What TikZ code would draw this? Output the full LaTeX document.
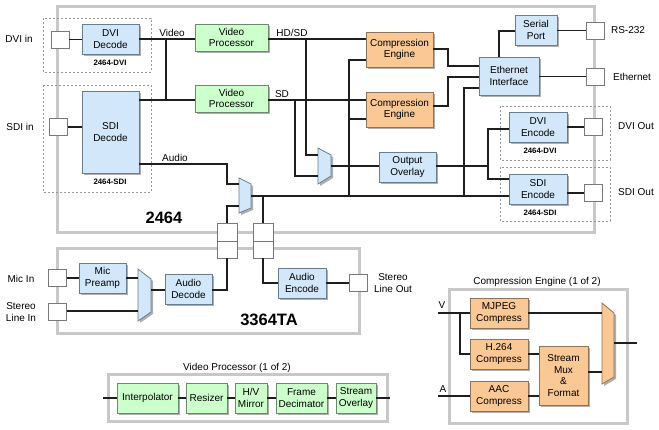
\documentclass[tikz,border=0pt]{standalone}
\usepackage{fontspec}
\setmainfont{Liberation Sans}
\usetikzlibrary{shadows}
\definecolor{bfill}{RGB}{210,232,250}
\definecolor{bborder}{RGB}{105,125,145}
\definecolor{gfill}{RGB}{204,255,204}
\definecolor{gborder}{RGB}{110,135,110}
\definecolor{ofill}{RGB}{250,200,148}
\definecolor{oborder}{RGB}{140,115,90}
\definecolor{shadowc}{RGB}{175,175,175}
\definecolor{framec}{RGB}{200,200,200}
\definecolor{dashc}{RGB}{150,150,150}
\definecolor{portc}{RGB}{120,120,120}
\definecolor{linec}{RGB}{30,30,30}
\tikzset{
  conn/.style={draw=linec, line width=1.1pt},
  blkbase/.style={rectangle, inner sep=0pt, align=center, font=\fontsize{10}{11.7}\selectfont, line width=0.8pt,
    drop shadow={shadow xshift=2pt, shadow yshift=-2pt, fill=shadowc, opacity=1}},
  bluebox/.style={blkbase, draw=bborder, fill=bfill},
  greenbox/.style={blkbase, draw=gborder, fill=gfill},
  orangebox/.style={blkbase, draw=oborder, fill=ofill},
  port/.style={rectangle, draw=portc, fill=white, line width=0.8pt, inner sep=0pt, minimum width=18pt, minimum height=17pt},
  frame/.style={draw=framec, line width=3pt},
  dbox/.style={draw=dashc, line width=0.8pt, dash pattern=on 2pt off 2pt},
  lbl/.style={font=\fontsize{10}{11.5}\selectfont, align=center, inner sep=0pt},
  sml/.style={font=\bfseries\fontsize{7.8}{9}\selectfont, inner sep=0pt},
  big/.style={font=\bfseries\fontsize{16.5}{18}\selectfont, inner sep=0pt},
  muxblue/.style={draw=bborder, fill=bfill, line width=0.8pt,
    drop shadow={shadow xshift=2pt, shadow yshift=-2pt, fill=shadowc, opacity=1}},
  muxorange/.style={draw=oborder, fill=ofill, line width=0.8pt,
    drop shadow={shadow xshift=2pt, shadow yshift=-2pt, fill=shadowc, opacity=1}}
}
\begin{document}
\begin{tikzpicture}[x=1pt,y=-1pt]
\useasboundingbox[fill=white] (0,0) rectangle (659,429);

% frames
\draw[frame] (57,6) rectangle (594,232);
\draw[frame] (57,248) rectangle (359,333);
\draw[frame] (449,289) rectangle (627,423);
\draw[frame] (108,374) rectangle (387,421);

% dashed option boxes
\draw[dbox] (43,18) rectangle (151,72);
\draw[dbox] (43,85) rectangle (151,192);
\draw[dbox] (500,106) rectangle (610,160);
\draw[dbox] (500,167) rectangle (610,221);

% ports
\node[port] (pDVIin) at (60,39.5) {};
\node[port] (pSDIin) at (58.5,127) {};
\node[port] (pRS) at (595,30.5) {};
\node[port] (pEth) at (595,76.5) {};
\node[port] (pDVIout) at (593.5,126.5) {};
\node[port] (pSDIout) at (593.5,193) {};
\node[port] (pMic) at (57.5,278) {};
\node[port] (pLine) at (57.5,312) {};
\node[port] (pStOut) at (358.5,283) {};
\node[port, minimum width=20pt, minimum height=18pt] (c1a) at (227,232) {};
\node[port, minimum width=20pt, minimum height=17pt] (c1b) at (227,249.5) {};
\node[port, minimum width=20pt, minimum height=18pt] (c2a) at (263,232) {};
\node[port, minimum width=20pt, minimum height=17pt] (c2b) at (263,249.5) {};

% outside labels
\node[lbl] (tDVIin) at (19,39) {DVI in};
\node[lbl] (tSDIin) at (20,127) {SDI in};
\node[lbl] (tRS) at (628,30) {RS-232};
\node[lbl] (tEth) at (632,77) {Ethernet};
\node[lbl] (tDVIout) at (636,126) {DVI Out};
\node[lbl] (tSDIout) at (636,192) {SDI Out};
\node[lbl] (tMic) at (21,279) {Mic In};
\node[lbl] (tLine) at (21,312) {Stereo\\Line In};
\node[lbl] (tStOut) at (393,283) {Stereo\\Line Out};

% signal labels
\node[lbl] (tVideo) at (172,33) {Video};
\node[lbl] (tHDSD) at (292,33) {HD/SD};
\node[lbl] (tSD) at (282,94) {SD};
\node[lbl] (tAudio) at (175,158) {Audio};

\node[sml] (o1) at (110,63) {2464-DVI};
\node[sml] (o2) at (110,182) {2464-SDI};
\node[sml] (o3) at (540,151) {2464-DVI};
\node[sml] (o4) at (540,213) {2464-SDI};

\node[big] (t2464) at (164,218) {2464};
\node[big] (t3364) at (269,320) {3364TA};
\node[lbl] (tCE) at (537,282) {Compression Engine (1 of 2)};
\node[lbl] (tVP) at (237,368) {Video Processor (1 of 2)};

% main blocks
\node[bluebox, minimum width=57pt, minimum height=30pt] (dvidec) at (110.5,39) {DVI\\Decode};
\node[bluebox, minimum width=57pt, minimum height=82pt] (sdidec) at (110.5,132) {SDI\\Decode};
\node[greenbox, minimum width=73pt, minimum height=27pt] (vp1) at (231.5,37.5) {Video\\Processor};
\node[greenbox, minimum width=73pt, minimum height=27pt] (vp2) at (231.5,98.5) {Video\\Processor};
\node[orangebox, minimum width=67pt, minimum height=35pt] (ce1) at (399.5,49.5) {Compression\\Engine};
\node[orangebox, minimum width=67pt, minimum height=35pt] (ce2) at (399.5,109.5) {Compression\\Engine};
\node[bluebox, minimum width=42pt, minimum height=30pt] (ser) at (536,30) {Serial\\Port};
\node[bluebox, minimum width=60pt, minimum height=38pt] (eth) at (509,76) {Ethernet\\Interface};
\node[bluebox, minimum width=57pt, minimum height=30pt] (oo) at (407.5,167) {Output\\Overlay};
\node[bluebox, minimum width=58pt, minimum height=30pt] (dvienc) at (538,127) {DVI\\Encode};
\node[bluebox, minimum width=58pt, minimum height=30pt] (sdienc) at (538,189) {SDI\\Encode};
\node[bluebox, minimum width=47pt, minimum height=30pt] (mic) at (102.5,278) {Mic\\Preamp};
\node[bluebox, minimum width=47pt, minimum height=30pt] (adec) at (188.5,289) {Audio\\Decode};
\node[bluebox, minimum width=48pt, minimum height=30pt] (aenc) at (302,283) {Audio\\Encode};

% compression engine detail
\node[orangebox, minimum width=58pt, minimum height=30pt] (mjpeg) at (499,313) {MJPEG\\Compress};
\node[orangebox, minimum width=58pt, minimum height=30pt] (h264) at (499,354) {H.264\\Compress};
\node[orangebox, minimum width=58pt, minimum height=30pt] (aac) at (499,396) {AAC\\Compress};
\node[orangebox, minimum width=49pt, minimum height=59pt] (smf) at (563.5,375.5) {Stream\\Mux\\\&\\Format};

% video processor detail
\node[greenbox, minimum width=61pt, minimum height=30pt] (interp) at (147.5,398) {Interpolator};
\node[greenbox, minimum width=41pt, minimum height=30pt] (resz) at (206.5,398) {Resizer};
\node[greenbox, minimum width=32pt, minimum height=30pt] (hvm) at (251,398) {H/V\\Mirror};
\node[greenbox, minimum width=51pt, minimum height=30pt] (fdec) at (301.5,398) {Frame\\Decimator};
\node[greenbox, minimum width=40pt, minimum height=30pt] (sov) at (356,398) {Stream\\Overlay};

% multiplexers
\path[muxblue] (318,148) -- (331,155) -- (331,176) -- (318,184) -- cycle;
\coordinate (vmuxA) at (318,155);
\coordinate (vmuxB) at (318,176);
\coordinate (vmuxO) at (331,166);
\path[muxblue] (239,178) -- (251,184) -- (251,208) -- (239,213) -- cycle;
\coordinate (amuxA) at (239,184);
\coordinate (amuxB) at (239,206);
\coordinate (amuxO) at (251,196);
\path[muxblue] (138,269) -- (151,279) -- (151,312) -- (138,321) -- cycle;
\coordinate (imuxA) at (138,278);
\coordinate (imuxB) at (138,311);
\coordinate (imuxO) at (151,290);
\path[muxorange] (602,303) -- (614,313) -- (614,377) -- (602,384) -- cycle;
\coordinate (cmuxA) at (602,313);
\coordinate (cmuxB) at (602,372);
\coordinate (cmuxO) at (614,343);

% video connectors
\draw[conn] (pDVIin.east) -- (pDVIin.east -| dvidec.west);
\draw[conn] (pSDIin.east) -- (pSDIin.east -| sdidec.west);
\draw[conn] (dvidec.east) -- (dvidec.east -| vp1.west);
\coordinate (yV2) at (0,100);
\draw[conn] (sdidec.east |- yV2) -- (vp2.west |- yV2);
\coordinate (jV) at (166,39);
\draw[conn] (jV) -- (jV |- yV2);
\draw[conn] (vp1.east |- jV) -- (ce1.west |- jV);
\draw[conn] (vp2.east |- yV2) -- (ce2.west |- yV2);
\coordinate (jHD) at (306,39);
\draw[conn] (jHD) |- (vmuxA);
\coordinate (jSD) at (295,100);
\draw[conn] (jSD) |- (vmuxB);
\draw[conn] (vmuxO) -- (vmuxO -| oo.west);
\coordinate (busTop) at (349,60);
\coordinate (busBot) at (349,196);
\draw[conn] (ce1.west |- busTop) -- (busTop) -- (busBot);
\coordinate (yCE2in) at (349,119);
\draw[conn] (ce2.west |- yCE2in) -- (yCE2in);
\draw[conn] (amuxO) -- (amuxO -| sdienc.west);
\coordinate (ethBus) at (464,88);
\draw[conn] (eth.west |- ethBus) -- (ethBus) -- (ethBus |- amuxO);
\coordinate (ooJ) at (488,166);
\draw[conn] (oo.east |- vmuxO) -- (ooJ);
\coordinate (ooT) at (488,129);
\coordinate (ooB) at (488,179);
\draw[conn] (dvienc.west |- ooT) -- (ooT) -- (ooB) -- (sdienc.west |- ooB);
\draw[conn] (dvienc.east) -- (dvienc.east -| pDVIout.west);
\draw[conn] (sdienc.east |- pSDIout.west) -- (pSDIout.west);
\draw[conn] (ser.east |- pRS.west) -- (pRS.west);
\draw[conn] (eth.east |- pEth.west) -- (pEth.west);
\coordinate (serJ) at (499,31);
\draw[conn] (eth.north -| serJ) -- (serJ) -- (serJ -| ser.west);
\coordinate (ce1J) at (448,49);
\coordinate (ce1K) at (448,66);
\draw[conn] (ce1.east |- ce1J) -- (ce1J) -- (ce1K) -- (ce1K -| eth.west);
\coordinate (ce2J) at (448,106);
\coordinate (ce2K) at (448,77);
\draw[conn] (ce2.east |- ce2J) -- (ce2J) -- (ce2K) -- (ce2K -| eth.west);

% audio connectors
\coordinate (auJ) at (227,164);
\draw[conn] (sdidec.east |- auJ) -- (auJ) |- (amuxA);
\draw[conn] (c1a.north) |- (amuxB);
\draw[conn] (c2a.north) -- (c2a.north |- amuxO);
\draw[conn] (pMic.east) -- (pMic.east -| mic.west);
\draw[conn] (mic.east |- imuxA) -- (imuxA);
\draw[conn] (pLine.east |- imuxB) -- (imuxB);
\draw[conn] (imuxO) -- (imuxO -| adec.west);
\draw[conn] (adec.east |- imuxO) -| (c1b.south);
\draw[conn] (c2b.south) |- (aenc.west);
\draw[conn] (aenc.east) -- (aenc.east -| pStOut.west);

% compression engine connectors
\coordinate (Vin) at (438,313);
\node[lbl, anchor=south] (tV) at (442,309) {V};
\draw[conn] (Vin) -- (Vin -| mjpeg.west);
\coordinate (Vj) at (460,313);
\draw[conn] (Vj) |- (h264.west);
\coordinate (Ain) at (438,396);
\node[lbl, anchor=south] (tA) at (443,393) {A};
\draw[conn] (Ain) -- (Ain -| aac.west);
\draw[conn] (mjpeg.east |- cmuxA) -- (cmuxA);
\draw[conn] (h264.east) -- (h264.east -| smf.west);
\draw[conn] (aac.east) -- (aac.east -| smf.west);
\draw[conn] (smf.east |- cmuxB) -- (cmuxB);
\coordinate (cOut) at (637,343);
\draw[conn] (cmuxO) -- (cOut);

% video processor connectors
\coordinate (vpIn) at (103,398);
\coordinate (vpOut) at (390,398);
\draw[conn] (vpIn) -- (interp.west);
\draw[conn] (interp.east) -- (resz.west);
\draw[conn] (resz.east) -- (hvm.west);
\draw[conn] (hvm.east) -- (fdec.west);
\draw[conn] (fdec.east) -- (sov.west);
\draw[conn] (sov.east) -- (vpOut);
\end{tikzpicture}
\end{document}
